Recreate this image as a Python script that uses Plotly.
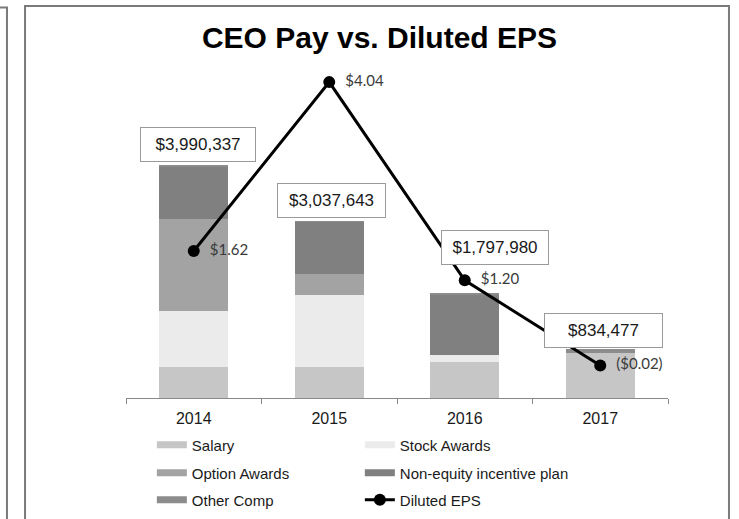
import plotly.graph_objects as go

years = ["2014", "2015", "2016", "2017"]
salary = [533000, 533000, 620000, 775000]
stock_awards = [964000, 1240000, 120000, 0]
option_awards = [1580000, 360000, 0, 0]
non_equity = [900337, 895000, 1040000, 0]
other_comp = [13000, 9643, 17980, 59477]
diluted_eps = [1.62, 4.04, 1.20, -0.02]

series_names = ["Salary", "Stock Awards", "Option Awards", "Non-equity incentive plan", "Other Comp"]
series_values = [salary, stock_awards, option_awards, non_equity, other_comp]
series_colors = ["#c6c6c6", "#ebebeb", "#a3a3a3", "#808080", "#8c8c8c"]
legend_ids = ["legend", "legend", "legend2", "legend2", "legend3"]

totals = [sum(v) for v in zip(*series_values)]

def fmt_money(v):
    return "${:,.0f}".format(v)

def fmt_eps(v):
    return "(${:.2f})".format(-v) if v < 0 else "${:.2f}".format(v)

FONT = "Liberation Sans, Arial, sans-serif"

fig = go.Figure()

for name, vals, col in zip(series_names, series_values, series_colors):
    fig.add_trace(go.Bar(
        x=years, y=vals, name=name, marker=dict(color=col, line=dict(width=0)),
        showlegend=False, yaxis="y", hoverinfo="skip"))

# legend-only entries shaped like the wide bar swatches
for name, col, lg in zip(series_names, series_colors, legend_ids):
    fig.add_trace(go.Scatter(
        x=[None], y=[None], mode="lines", name=name,
        line=dict(color=col, width=7), legend=lg, showlegend=True))

fig.add_trace(go.Scatter(
    x=years, y=diluted_eps, name="Diluted EPS", yaxis="y2",
    mode="lines+markers+text",
    line=dict(color="#000000", width=3),
    marker=dict(color="#000000", size=12),
    text=[fmt_eps(v) for v in diluted_eps],
    texttemplate="\u2002%{text}",
    textposition="middle right",
    textfont=dict(family="Lato, Carlito, sans-serif", size=15, color="#3a3a3a"),
    legend="legend3", cliponaxis=False))

# total boxes
box_xshift = [4, 2, 30, 3]
box_yshift = [4, 3, 28, 1]
box_width = [114, 107, 106, 117]
for i, (tot, xs, ys, w) in enumerate(zip(totals, box_xshift, box_yshift, box_width)):
    fig.add_annotation(
        x=i, y=tot, xref="x", yref="y", text=fmt_money(tot), showarrow=False,
        xanchor="center", yanchor="bottom", xshift=xs, yshift=ys,
        width=w, height=33, borderpad=0,
        bordercolor="#9a9a9a", borderwidth=1, bgcolor="#ffffff",
        font=dict(family=FONT, size=17, color="#1a1a1a"))

# frame shapes
fig.add_shape(type="rect", xref="paper", yref="paper",
              x0=-0.1863, x1=1.1125, y0=-0.6, y1=1.1598,
              line=dict(color="#7a7a7a", width=2), layer="below")
fig.add_shape(type="path", xref="paper", yref="paper",
              path="M -0.3,1.155 L -0.2196,1.155 L -0.2196,-0.6",
              line=dict(color="#7a7a7a", width=2), layer="below")

legend_common = dict(orientation="h", xref="paper", yref="paper",
                     x=0.0477, xanchor="left", yanchor="middle",
                     entrywidth=163, entrywidthmode="pixels", traceorder="normal",
                     bgcolor="rgba(0,0,0,0)", borderwidth=0,
                     font=dict(family=FONT, size=15, color="#1a1a1a"),
                     itemclick=False, itemdoubleclick=False)

hidden_axis = dict(showticklabels=False, showline=False, showgrid=False,
                   zeroline=False, ticks="")

fig.update_layout(
    width=739, height=519,
    margin=dict(l=126, r=71, t=60, b=121, autoexpand=False),
    paper_bgcolor="#ffffff", plot_bgcolor="#ffffff",
    barmode="stack", bargap=0.49,
    title=dict(text="<b>CEO Pay vs. Diluted EPS</b>", x=379.5 / 739, xanchor="center",
               y=1 - 37 / 519, yanchor="middle",
               font=dict(family=FONT, size=30, color="#000000")),
    xaxis=dict(type="category", showline=True, linecolor="#8a8a8a", linewidth=1,
               ticks="outside", ticklen=5, tickcolor="#8a8a8a", tickson="boundaries",
               tickfont=dict(family=FONT, size=16, color="#1a1a1a"),
               ticklabelstandoff=6, showgrid=False, zeroline=False,
               range=[-0.5, 3.5]),
    yaxis=dict(range=[0, 5.813e6], **hidden_axis),
    yaxis2=dict(range=[-0.486, 4.357], overlaying="y", side="right", **hidden_axis),
    legend=dict(y=-0.139, **legend_common),
    legend2=dict(y=-0.222, **legend_common),
    legend3=dict(y=-0.302, **legend_common),
    showlegend=True,
)

fig.write_html("out.html", config={"displayModeBar": False},
               post_script="document.body.style.margin='0';document.body.style.padding='0';")
